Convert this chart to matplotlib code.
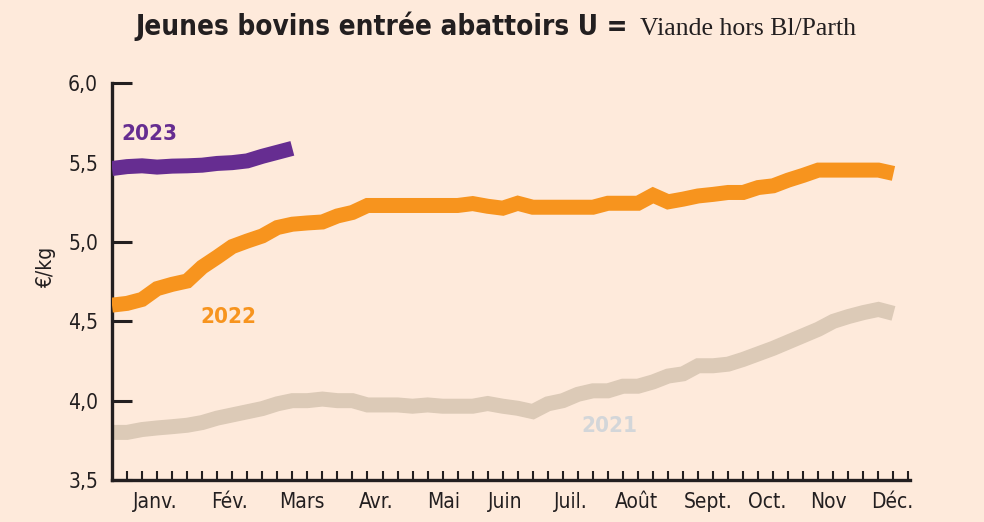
import matplotlib
matplotlib.use("Agg")
import matplotlib.pyplot as plt
from matplotlib.font_manager import FontProperties
from matplotlib.ticker import FixedLocator, FuncFormatter

# ---------------- data ----------------
weeks_2021 = list(range(53))
prix_2021 = [3.80, 3.80, 3.818, 3.828, 3.836, 3.845, 3.862, 3.89, 3.91, 3.93,
             3.95, 3.98, 4.00, 4.00, 4.01, 4.00, 4.00, 3.973, 3.973, 3.973,
             3.965, 3.973, 3.965, 3.965, 3.965, 3.982, 3.965, 3.952, 3.931, 3.98,
             4.00, 4.04, 4.062, 4.062, 4.091, 4.091, 4.118, 4.155, 4.169, 4.22,
             4.22, 4.23, 4.26, 4.295, 4.33, 4.37, 4.41, 4.45, 4.50, 4.53,
             4.555, 4.575, 4.55]

weeks_2022 = list(range(53))
prix_2022 = [4.602, 4.613, 4.638, 4.706, 4.733, 4.754, 4.842, 4.905, 4.971, 5.006,
             5.038, 5.091, 5.112, 5.12, 5.126, 5.164, 5.186, 5.23, 5.23, 5.23,
             5.23, 5.23, 5.23, 5.23, 5.242, 5.225, 5.213, 5.244, 5.219, 5.219,
             5.219, 5.219, 5.219, 5.244, 5.244, 5.244, 5.295, 5.253, 5.27, 5.29,
             5.30, 5.312, 5.312, 5.343, 5.354, 5.39, 5.42, 5.453, 5.453, 5.453,
             5.453, 5.453, 5.432]

weeks_2023 = list(range(13))
prix_2023 = [5.463, 5.475, 5.48, 5.472, 5.478, 5.48, 5.484, 5.495, 5.50, 5.511,
             5.54, 5.565, 5.59]

series_labels = ["2021", "2022", "2023"]
month_labels = ["Janv.", "Fév.", "Mars", "Avr.", "Mai", "Juin",
                "Juil.", "Août", "Sept.", "Oct.", "Nov", "Déc."]
month_positions = [2.86, 7.8, 12.65, 17.6, 22.05, 26.2, 30.5, 34.9, 39.7, 43.6, 47.7, 51.9]
y_ticks = [3.5, 4.0, 4.5, 5.0, 5.5, 6.0]
week_ticks = list(range(1, 54))

title_bold = "Jeunes bovins entrée abattoirs U ="
title_serif = "Viande hors Bl/Parth"
y_label = "€/kg"

# ---------------- style ----------------
BG = "#feeadb"
DARK = "#231f20"
C2021 = "#dccab7"
C2022 = "#f7941e"
C2023 = "#662d91"
C2021_LABEL = "#d3d6d9"

cond = dict(family="DejaVu Sans", stretch="condensed")

fig = plt.figure(figsize=(9.84, 5.22), dpi=100, facecolor=BG)
ax = fig.add_axes([112 / 984, 42 / 522, 798 / 984, (480 - 83.3) / 522])
ax.set_facecolor(BG)

line_kw = dict(lw=10.8, solid_capstyle="butt", solid_joinstyle="miter")
ax.plot(weeks_2021, prix_2021, color=C2021, **line_kw, zorder=2)
ax.plot(weeks_2022, prix_2022, color=C2022, **line_kw, zorder=3)
ax.plot(weeks_2023, prix_2023, color=C2023, **line_kw, zorder=4)

ax.set_xlim(0, 53.1)
ax.set_ylim(3.5, 6.0)

for s in ["top", "right"]:
    ax.spines[s].set_visible(False)
for s in ["left", "bottom"]:
    ax.spines[s].set_color(DARK)
    ax.spines[s].set_linewidth(2.4)
    ax.spines[s].set_capstyle("projecting")

ax.yaxis.set_major_locator(FixedLocator(y_ticks))
ax.yaxis.set_major_formatter(FuncFormatter(lambda v, p: f"{v:.1f}".replace(".", ",")))
ax.tick_params(axis="y", direction="in", length=14.4, width=2.2, color=DARK,
               pad=10, labelsize=15, labelcolor=DARK)
for lab in ax.get_yticklabels():
    lab.set_fontproperties(FontProperties(size=15, **cond))

ax.xaxis.set_major_locator(FixedLocator(week_ticks))
ax.xaxis.set_major_formatter(FuncFormatter(lambda v, p: ""))
ax.tick_params(axis="x", which="major", direction="in", length=6.5, width=1.5, color=DARK)
ax.xaxis.set_minor_locator(FixedLocator(month_positions))
ax.set_xticklabels(month_labels, minor=True)
ax.tick_params(axis="x", which="minor", length=0, pad=9, labelcolor=DARK)
for lab in ax.get_xticklabels(minor=True):
    lab.set_fontproperties(FontProperties(size=15, **cond))

# series labels
lab_fp = FontProperties(size=16, weight="bold", **cond)
ax.text(2.46, 5.64, series_labels[2], color=C2023, ha="center", va="baseline", fontproperties=lab_fp)
ax.text(7.72, 4.487, series_labels[1], color=C2022, ha="center", va="baseline", fontproperties=lab_fp)
ax.text(33.07, 3.805, series_labels[0], color=C2021_LABEL, ha="center", va="baseline", fontproperties=lab_fp)

# y label
fig.text(46 / 984, 1 - 267 / 522, y_label, rotation=90, ha="center", va="center",
         color=DARK, fontproperties=FontProperties(size=15, **cond))

# title
fig.text(135 / 984, 1 - 35 / 522, title_bold, ha="left", va="baseline", color=DARK,
         fontproperties=FontProperties(size=20, weight="bold", **cond))
fig.text(640 / 984, 1 - 35 / 522, title_serif, ha="left", va="baseline", color=DARK,
         fontproperties=FontProperties(family="Liberation Serif", size=18.5))

fig.savefig("out.png", dpi=100, facecolor=BG)
